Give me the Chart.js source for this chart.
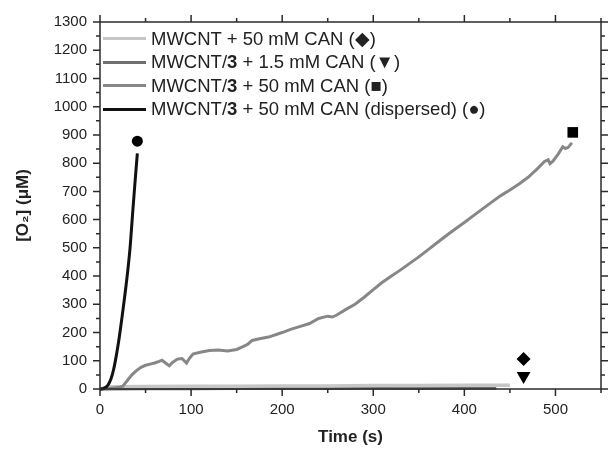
<!DOCTYPE html>
<html>
<head>
<meta charset="utf-8">
<script src="https://cdn.jsdelivr.net/npm/chart.js@4.4.0/dist/chart.umd.min.js"></script>
<style>
  html, body { margin: 0; padding: 0; background: #fff; }
  #wrap { position: relative; width: 613px; height: 449px; }
  #legend { position: absolute; left: 103px; top: 27px; font: 18.5px "Liberation Sans", Arial, sans-serif; color: #222; }
  .row { height: 23.5px; display: flex; align-items: center; white-space: nowrap; }
  .swatch { display: inline-block; width: 43px; height: 3px; margin-right: 5px; }
</style>
</head>
<body>
<div id="wrap">
  <canvas id="c" width="613" height="449"></canvas>
  <div id="legend"></div>
</div>
<script>
  // series: MWCNT + 50 mM CAN
  const plainT = [0, 5, 10, 50, 100, 150, 200, 250, 300, 350, 400, 450];
  const plainV = [0, 4, 8, 9, 10, 10, 11, 11, 12, 12, 13, 13];

  // series: MWCNT/3 + 1.5 mM CAN
  const lowT = [0, 50, 100, 150, 200, 250, 300, 350, 400, 435];
  const lowV = [0, 1, 1, 2, 2, 2, 3, 2, 3, 3];

  // series: MWCNT/3 + 50 mM CAN
  const highT = [0, 10, 20, 25, 30, 35, 40, 45, 50, 55, 60, 65, 68, 72, 76, 80, 85, 90, 95, 98,
    102, 110, 120, 130, 140, 150, 157, 162, 167, 175, 185, 200, 210, 220, 230, 240, 250, 255,
    260, 270, 280, 290, 300, 310, 320, 330, 340, 350, 360, 370, 380, 390, 400, 410, 420, 430,
    440, 450, 460, 470, 480, 488, 492, 494, 497, 503, 508, 511, 514, 518];
  const highV = [0, 2, 5, 10, 30, 50, 65, 77, 84, 88, 92, 98, 102, 92, 82, 95, 106, 108, 92, 108,
    124, 130, 136, 138, 135, 140, 150, 158, 172, 178, 184, 200, 212, 222, 232, 250, 258, 255,
    262, 282, 300, 325, 352, 378, 400, 422, 445, 468, 493, 518, 543, 567, 590, 614, 638, 662,
    685, 705, 726, 750, 780, 806, 812, 798, 806, 832, 858, 852, 856, 872];

  // series: MWCNT/3 + 50 mM CAN (dispersed)
  const dispT = [0, 3, 6, 9, 12, 15, 18, 21, 24, 27, 30, 33, 36, 39, 41];
  const dispV = [0, 1, 5, 15, 35, 70, 120, 180, 250, 325, 405, 500, 630, 755, 835];

  // end markers
  const markerT = [465, 465, 519, 41];
  const markerV = [106, 46, 909, 878];
  const markerStyle = ["rectRot", "triangle", "rect", "circle"];
  const markerRot = [0, 180, 0, 0];
  const markerSize = [7, 8, 7.5, 5.5];

  const seriesNames = [
    "MWCNT + 50 mM CAN (◆)",
    "MWCNT/3 + 1.5 mM CAN (▼)",
    "MWCNT/3 + 50 mM CAN (■)",
    "MWCNT/3 + 50 mM CAN (dispersed) (●)",
  ];
  const seriesColors = ["#c6c6c6", "#6f6f6f", "#878787", "#111111"];

  const xTicksMax = 550;
  const yTicksMax = 1300;

  function pts(ts, vs) {
    return ts.map((t, i) => ({ x: t, y: vs[i] }));
  }

  const legendEl = document.getElementById("legend");
  seriesNames.forEach((name, i) => {
    const row = document.createElement("div");
    row.className = "row";
    const sw = document.createElement("span");
    sw.className = "swatch";
    sw.style.background = seriesColors[i];
    const txt = document.createElement("span");
    txt.innerHTML = name.replace("/3", "/<b>3</b>");
    row.appendChild(sw);
    row.appendChild(txt);
    legendEl.appendChild(row);
  });

  const frameTicks = {
    id: "frameTicks",
    afterDraw(chart) {
      const { ctx, chartArea: a, scales } = chart;
      const x = scales.x, y = scales.y;
      ctx.save();
      ctx.strokeStyle = "#2b2b2b";
      ctx.lineWidth = 1.5;
      ctx.strokeRect(a.left, a.top, a.right - a.left, a.bottom - a.top);
      ctx.beginPath();
      x.ticks.forEach((t) => {
        const px = x.getPixelForValue(t.value);
        const len = t.value % 100 === 0 ? 7 : 4;
        ctx.moveTo(px, a.bottom); ctx.lineTo(px, a.bottom + len);
        ctx.moveTo(px, a.top); ctx.lineTo(px, a.top - len);
      });
      y.ticks.forEach((t) => {
        const py = y.getPixelForValue(t.value);
        const len = t.value % 100 === 0 ? 7 : 4;
        ctx.moveTo(a.left, py); ctx.lineTo(a.left - len, py);
        ctx.moveTo(a.right, py); ctx.lineTo(a.right + len, py);
      });
      ctx.stroke();
      ctx.restore();
    },
  };

  const lineDs = (data, color, width, tension) => ({
    data,
    showLine: true,
    borderColor: color,
    borderWidth: width,
    pointRadius: 0,
    tension,
    fill: false,
  });

  new Chart(document.getElementById("c"), {
    type: "scatter",
    data: {
      datasets: [
        {
          data: pts(markerT, markerV),
          pointStyle: markerStyle,
          rotation: markerRot,
          pointRadius: markerSize,
          backgroundColor: "#000",
          borderColor: "#000",
          borderWidth: 0,
          showLine: false,
        },
        lineDs(pts(dispT, dispV), seriesColors[3], 3, 0.3),
        lineDs(pts(highT, highV), seriesColors[2], 3, 0),
        lineDs(pts(plainT, plainV), seriesColors[0], 3.5, 0),
        lineDs(pts(lowT, lowV), seriesColors[1], 3, 0),
      ],
    },
    options: {
      responsive: false,
      animation: false,
      clip: false,
      layout: { padding: { left: 0, top: 21, right: 9, bottom: 0 } },
      plugins: { legend: { display: false }, tooltip: { enabled: false } },
      scales: {
        x: {
          type: "linear",
          min: 0,
          max: xTicksMax,
          afterFit(s) { s.height = 60; },
          grid: { display: false, drawTicks: false },
          border: { display: false },
          ticks: {
            stepSize: 50,
            autoSkip: false,
            maxRotation: 0,
            padding: 12,
            color: "#222",
            font: { family: "'Liberation Sans', Arial", size: 15 },
            callback: (v) => (v % 100 === 0 ? v : ""),
          },
          title: {
            display: true,
            text: "Time (s)",
            color: "#222",
            font: { family: "'Liberation Sans', Arial", size: 17, weight: "bold" },
            padding: { top: 0, bottom: 1 },
          },
        },
        y: {
          type: "linear",
          min: 0,
          max: yTicksMax,
          afterFit(s) { s.width = 100; },
          grid: { display: false, drawTicks: false },
          border: { display: false },
          ticks: {
            stepSize: 50,
            autoSkip: false,
            padding: 13,
            color: "#222",
            font: { family: "'Liberation Sans', Arial", size: 15 },
            callback: (v) => (v % 100 === 0 ? v : ""),
          },
          title: {
            display: true,
            text: "[O₂] (μM)",
            color: "#222",
            font: { family: "'Liberation Sans', Arial", size: 17, weight: "bold" },
            padding: { top: 13, bottom: 0 },
          },
        },
      },
    },
    plugins: [frameTicks],
  });
</script>
</body>
</html>
